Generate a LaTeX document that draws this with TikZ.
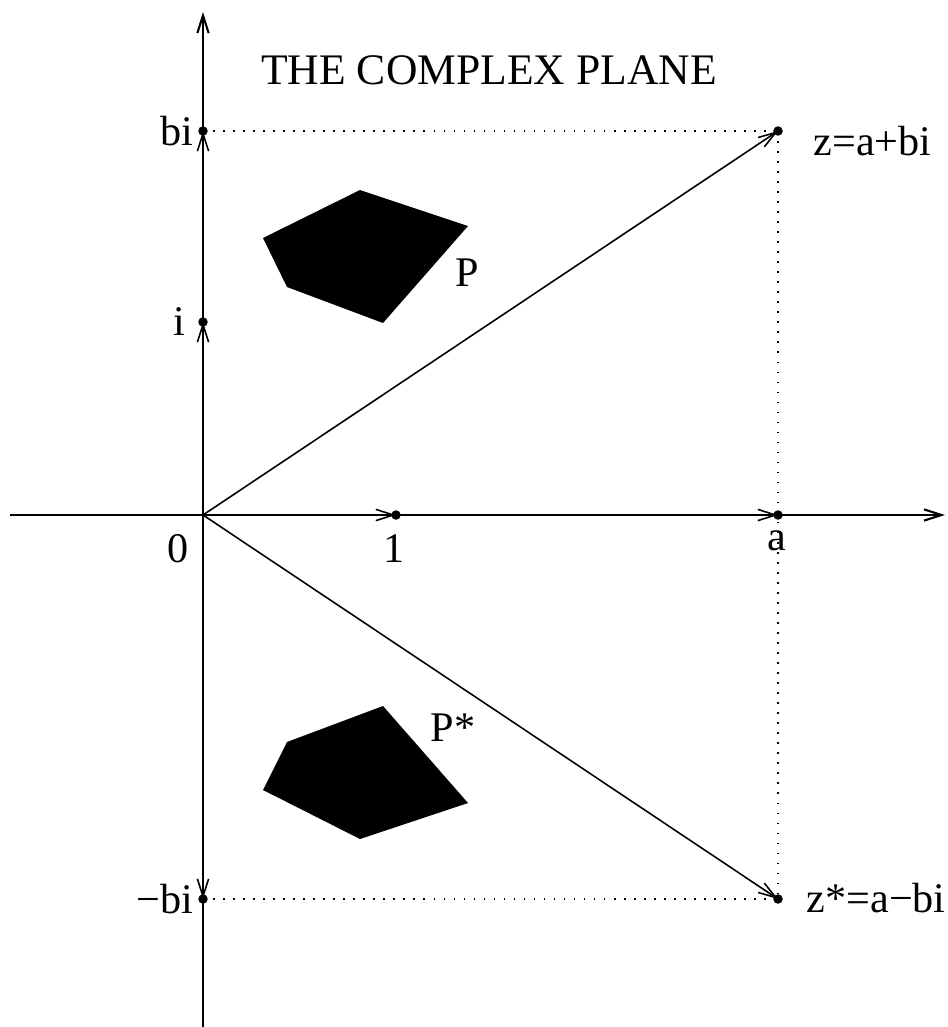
\documentclass[tikz,border=0pt]{standalone}
\usepackage{fontspec}
\setmainfont{Liberation Serif}
\usetikzlibrary{arrows.meta, positioning}

\begin{document}
\begin{tikzpicture}[
  x=0.01cm, y=-0.01cm,
  every node/.style={font=\fontsize{12}{14}\selectfont},
  axis/.style={line width=0.6pt, -{Straight Barb[length=5pt, width=3.2pt]}},
  vec/.style={line width=0.45pt, -{Straight Barb[length=5pt, width=3.2pt]}},
  guide/.style={line width=0.45pt, dash pattern=on 0.45pt off 2.4pt},
  dot/.style={circle, fill, inner sep=0pt, minimum size=2.7pt},
  lbl/.style={inner sep=0pt},
  blob/.style={fill=black, draw=none}
]
\useasboundingbox (0,0) rectangle (947,1027);

% points of the plane
\coordinate (O) at (203,515);
\coordinate (one) at (396,515);
\coordinate (A) at (778,515);
\coordinate (I) at (203,322);
\coordinate (B) at (203,131);
\coordinate (mB) at (203,899);
\coordinate (Z) at (778,131);
\coordinate (Zc) at (778,899);
\coordinate (W) at (10,515);
\coordinate (E) at (945,515);
\coordinate (S) at (203,1027);
\coordinate (N) at (203,12);

% dotted guides
\draw[guide] (B) -- (Z);
\draw[guide] (mB) -- (Zc);
\draw[guide] (Z) -- (Zc);

% axes
\draw[axis] (W) -- (E);
\draw[axis] (S) -- (N);

% vectors from the origin
\draw[vec] (O) -- (one);
\draw[vec] (O) -- (A);
\draw[vec] (O) -- (I);
\draw[vec] (O) -- (B);
\draw[vec] (O) -- (mB);
\draw[vec] (O) -- (Z);
\draw[vec] (O) -- (Zc);

% dots
\foreach \p in {one, A, I, B, mB, Z, Zc}
  \node[dot] at (\p) {};

% the two polygons
\fill[blob] (263,238) -- (360,190) -- (468,226) -- (383,323) -- (287,287) -- cycle;
\fill[blob] (287,742) -- (383,706) -- (468,803) -- (360,839) -- (263,790) -- cycle;

% labels
\node[lbl, font=\fontsize{12.4}{14}\selectfont] (title) at (489,70) {THE COMPLEX PLANE};
\node[lbl, left=0.09cm of B] (lB) {bi};
\node[lbl, left=0.17cm of I] (lI) {i};
\node[lbl, left=0.09cm of mB] (lmB) {−bi};
\node[lbl] (lO) at (178,549) {0};
\node[lbl] (lone) at (394,549) {1};
\node[lbl] (lA) at (777,541) {a};
\node[lbl, anchor=west] (lZ) at (813,141) {z=a+bi};
\node[lbl, anchor=west] (lZc) at (806,898) {z*=a−bi};
\node[lbl] (lP) at (467,273) {P};
\node[lbl] (lPc) at (453,728) {P*};

\end{tikzpicture}
\end{document}
